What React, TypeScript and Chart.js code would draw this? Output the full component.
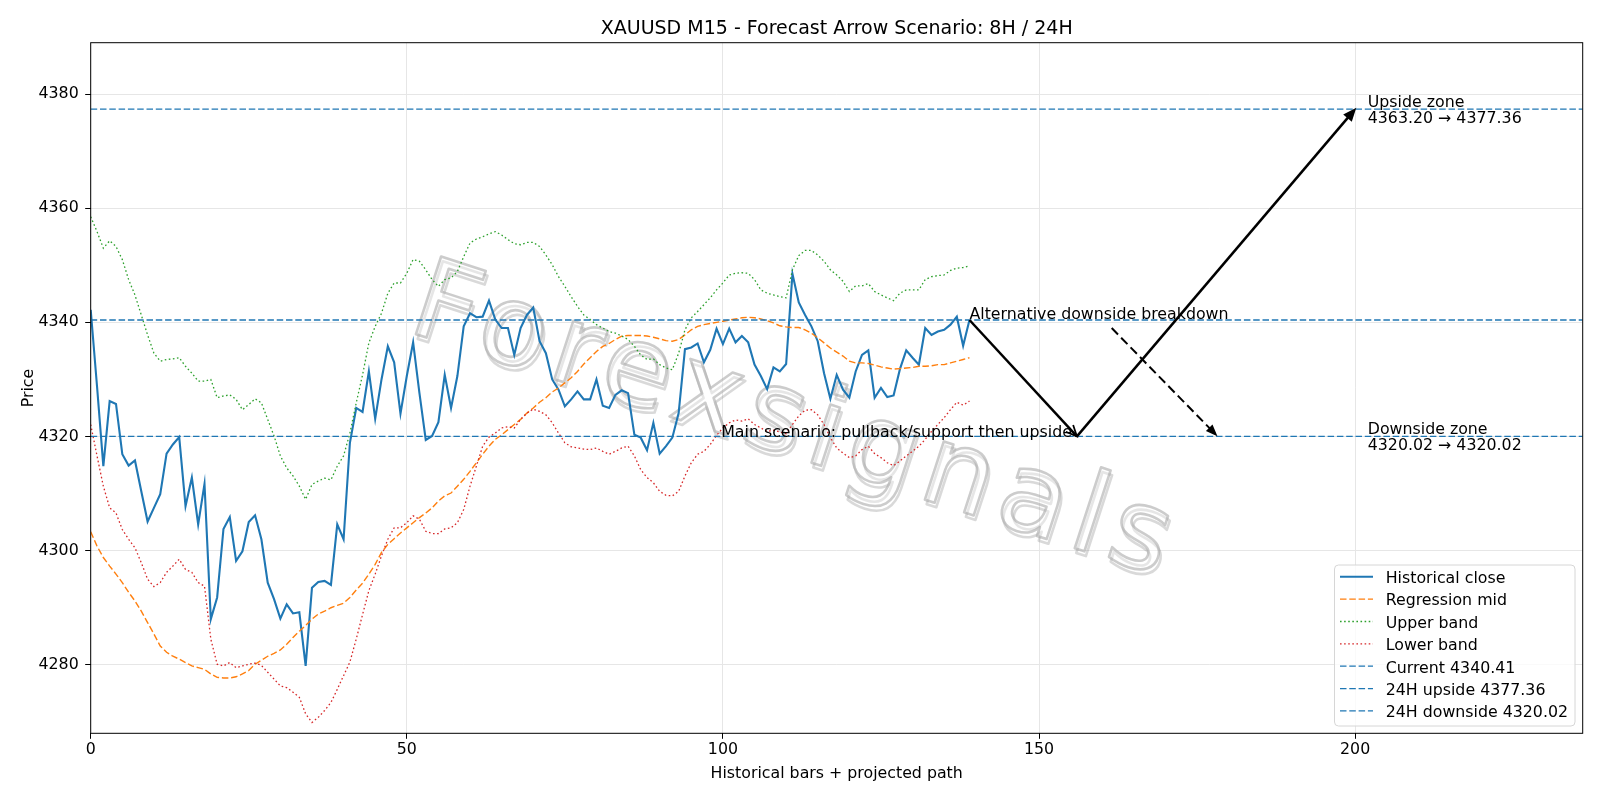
import { useEffect, useRef } from "react";
import { Chart, registerables } from "chart.js";

Chart.register(...registerables);

// ---------------- data ----------------
const historicalClose = [
  4342.2, 4328.8, 4314.8, 4326.2, 4325.7, 4316.9, 4314.9, 4315.8, 4310.4, 4305.1,
  4307.5, 4309.9, 4317.0, 4318.6, 4319.9, 4307.8, 4312.8, 4304.6, 4311.7, 4288.0,
  4291.8, 4303.8, 4305.9, 4298.2, 4299.9, 4305.0, 4306.2, 4302.0, 4294.4, 4291.5,
  4288.1, 4290.6, 4289.0, 4289.2, 4279.8, 4293.5, 4294.5, 4294.7, 4294.0, 4304.6,
  4302.0, 4318.9, 4325.0, 4324.3, 4331.4, 4323.1, 4330.0, 4335.8, 4333.0, 4324.0,
  4330.6, 4336.5, 4327.6, 4319.4, 4320.1, 4322.5, 4330.8, 4325.0, 4330.6, 4339.3,
  4341.6, 4340.9, 4341.0, 4343.8, 4340.5, 4339.0, 4339.0, 4334.3, 4339.0, 4341.3,
  4342.6, 4336.7, 4334.6, 4330.0, 4328.2, 4325.3, 4326.5, 4327.9, 4326.5, 4326.5,
  4330.0, 4325.4, 4325.0, 4327.3, 4328.1, 4327.6, 4320.3, 4319.8, 4317.6, 4322.4,
  4317.0, 4318.3, 4319.8, 4324.1, 4335.3, 4335.6, 4336.3, 4333.0, 4335.2, 4338.9,
  4336.2, 4338.9, 4336.5, 4337.6, 4336.5, 4332.6, 4330.6, 4328.3, 4332.1, 4331.4,
  4332.7, 4348.5, 4343.5, 4341.3, 4339.3, 4336.7, 4331.1, 4326.6, 4330.8, 4328.2,
  4326.8, 4331.4, 4334.3, 4335.1, 4326.8, 4328.5, 4326.9, 4327.2, 4331.8, 4335.1,
  4333.8, 4332.6, 4339.0, 4337.8, 4338.4, 4338.7, 4339.6, 4341.0, 4335.9, 4340.41,
];

const regressionMid = [
  4303.3, 4300.8, 4298.8, 4297.3, 4295.9, 4294.4, 4292.7, 4291.2, 4289.4, 4287.4,
  4285.4, 4283.3, 4282.2, 4281.5, 4281.0, 4280.4, 4279.8, 4279.5, 4279.2, 4278.4,
  4277.8, 4277.7, 4277.7, 4277.9, 4278.4, 4279.0, 4280.1, 4280.8, 4281.5, 4282.0,
  4282.6, 4283.6, 4284.8, 4285.9, 4286.9, 4288.0, 4288.9, 4289.4, 4290.0, 4290.4,
  4290.8, 4291.8, 4293.1, 4294.3, 4295.9, 4297.6, 4299.7, 4301.1, 4302.1, 4303.1,
  4304.0, 4304.9, 4305.8, 4306.6, 4307.5, 4308.7, 4309.6, 4310.1, 4311.3, 4312.5,
  4313.9, 4315.4, 4316.9, 4318.3, 4319.5, 4320.3, 4321.2, 4322.1, 4323.0, 4324.1,
  4325.0, 4326.0, 4326.8, 4327.8, 4328.5, 4329.4, 4330.3, 4331.4, 4332.7, 4333.8,
  4334.9, 4335.8, 4336.3, 4337.0, 4337.6, 4337.7, 4337.7, 4337.7, 4337.6, 4337.4,
  4337.1, 4336.8, 4336.7, 4337.0, 4337.8, 4338.7, 4339.3, 4339.6, 4339.8, 4340.0,
  4340.2, 4340.4, 4340.6, 4340.8, 4340.9, 4340.8, 4340.6, 4340.3, 4339.9, 4339.4,
  4339.2, 4339.1, 4339.1, 4338.7, 4338.1, 4337.3, 4336.4, 4335.5, 4334.8, 4334.1,
  4333.2, 4332.9, 4332.9, 4332.8, 4332.5, 4332.2, 4332.0, 4331.8, 4331.9, 4332.0,
  4332.1, 4332.3, 4332.3, 4332.4, 4332.6, 4332.6, 4332.9, 4333.2, 4333.5, 4333.8,
];

const upperBand = [
  4358.5, 4355.9, 4353.0, 4354.3, 4353.3, 4351.0, 4347.5, 4344.8, 4341.3, 4337.8,
  4334.6, 4333.2, 4333.5, 4333.6, 4333.8, 4332.3, 4331.1, 4329.7, 4329.7, 4330.0,
  4326.8, 4327.1, 4327.3, 4326.5, 4324.7, 4325.6, 4326.6, 4325.9, 4323.0, 4320.1,
  4316.6, 4314.5, 4313.1, 4311.3, 4309.0, 4311.6, 4312.2, 4312.7, 4312.4, 4314.8,
  4316.6, 4320.6, 4325.9, 4330.8, 4336.4, 4339.3, 4341.6, 4345.1, 4346.9, 4346.9,
  4348.6, 4351.0, 4350.7, 4349.2, 4347.5, 4346.3, 4347.5, 4347.8, 4348.9, 4351.5,
  4353.9, 4354.6, 4355.0, 4355.5, 4355.9, 4355.3, 4354.5, 4353.8, 4353.6, 4354.0,
  4354.0, 4353.3, 4351.8, 4350.1, 4348.0, 4346.3, 4344.5, 4342.8, 4341.3, 4340.5,
  4339.6, 4339.0, 4338.4, 4338.1, 4337.6, 4337.0, 4335.8, 4334.3, 4333.5, 4333.6,
  4332.6, 4332.0, 4331.7, 4334.6, 4338.7, 4340.8, 4341.9, 4343.1, 4344.3, 4345.7,
  4346.9, 4348.3, 4348.6, 4348.7, 4348.6, 4347.5, 4345.7, 4345.1, 4344.8, 4344.5,
  4344.3, 4349.2, 4351.7, 4352.6, 4352.6, 4351.8, 4350.7, 4349.2, 4348.3, 4347.2,
  4345.4, 4346.4, 4346.4, 4346.8, 4345.4, 4344.8, 4344.3, 4343.8, 4345.1, 4345.7,
  4345.7, 4345.7, 4347.5, 4348.0, 4348.2, 4348.3, 4349.1, 4349.5, 4349.6, 4349.9,
];

const lowerBand = [
  4322.1, 4316.6, 4311.3, 4307.5, 4306.6, 4303.7, 4302.0, 4300.5, 4297.9, 4295.0,
  4293.7, 4294.4, 4296.2, 4297.3, 4298.5, 4296.7, 4296.2, 4294.4, 4293.8, 4284.5,
  4280.1, 4279.8, 4280.4, 4279.5, 4279.8, 4280.1, 4280.3, 4279.9, 4278.7, 4277.5,
  4276.3, 4276.0, 4275.2, 4274.3, 4271.4, 4269.9, 4270.8, 4272.0, 4273.4, 4275.7,
  4278.1, 4280.5, 4284.5, 4288.8, 4293.0, 4295.9, 4299.1, 4302.0, 4304.0, 4304.0,
  4304.9, 4306.1, 4305.5, 4303.4, 4303.0, 4303.0, 4303.8, 4304.0, 4304.9, 4307.2,
  4311.3, 4314.8, 4318.3, 4319.9, 4320.6, 4321.5, 4321.7, 4321.5, 4323.0, 4324.1,
  4324.8, 4324.4, 4323.8, 4322.4, 4320.6, 4318.9, 4318.2, 4318.0, 4317.8, 4317.7,
  4318.0, 4317.4, 4316.9, 4317.4, 4318.0, 4318.3, 4316.6, 4314.2, 4312.8, 4311.9,
  4310.4, 4309.7, 4309.6, 4310.4, 4313.1, 4315.4, 4316.9, 4317.4, 4318.6, 4320.2,
  4321.5, 4322.4, 4322.9, 4322.7, 4323.1, 4322.1, 4321.5, 4320.9, 4321.1, 4320.8,
  4320.5, 4322.1, 4323.6, 4324.6, 4324.7, 4323.8, 4322.1, 4319.8, 4318.0, 4317.1,
  4316.3, 4316.6, 4317.7, 4318.3, 4317.0, 4316.3, 4315.4, 4314.9, 4315.7, 4316.6,
  4317.4, 4318.3, 4319.5, 4320.9, 4322.1, 4323.3, 4324.7, 4326.0, 4325.5, 4326.2,
];

const xTicks = [0, 50, 100, 150, 200];
const yTicks = [4280, 4300, 4320, 4340, 4360, 4380];
const xLimits = [0, 236];
const yLimits = [4268, 4389];

const currentPrice = 4340.41;
const upside24H = 4377.36;
const downside24H = 4320.02;
const upsideZoneStart = 4363.2;
const downsideZoneStart = 4320.02;

// projected scenario path: current -> support -> upside target
const mainPathX = [139, 156, 200];
const mainPathY = [4340.41, 4320.02, 4377.36];
// alternative downside breakdown
const altPathX = [161.5, 178];
const altPathY = [4339.0, 4320.3];

const TITLE = "XAUUSD M15 - Forecast Arrow Scenario: 8H / 24H";
const X_TITLE = "Historical bars + projected path";
const Y_TITLE = "Price";
const WATERMARK = "Forexsignals";

// ---------------- styles ----------------
const FONT = '"DejaVu Sans", "Liberation Sans", sans-serif';
const FS = 15.8;
const TITLE_FS = 19;
const BLUE = "#1f77b4";
const ORANGE = "#ff7f0e";
const GREEN = "#2ca02c";
const RED = "#d62728";

const toXY = (arr: number[]) => arr.map((y, i) => ({ x: i, y }));
const hline = (level: number) => xLimits.map((x) => ({ x, y: level }));

function drawArrow(
  ctx: CanvasRenderingContext2D,
  x1: number,
  y1: number,
  x2: number,
  y2: number,
  o: { width: number; dash?: number[]; head: "filled" | "open"; len: number; half: number }
) {
  const ang = Math.atan2(y2 - y1, x2 - x1);
  const ux = Math.cos(ang);
  const uy = Math.sin(ang);
  ctx.save();
  ctx.strokeStyle = "#000";
  ctx.fillStyle = "#000";
  ctx.lineWidth = o.width;
  ctx.lineCap = "butt";
  ctx.setLineDash(o.dash || []);
  const endX = o.head === "filled" ? x2 - ux * o.len * 0.8 : x2;
  const endY = o.head === "filled" ? y2 - uy * o.len * 0.8 : y2;
  ctx.beginPath();
  ctx.moveTo(x1, y1);
  ctx.lineTo(endX, endY);
  ctx.stroke();
  ctx.setLineDash([]);
  const bx = x2 - ux * o.len;
  const by = y2 - uy * o.len;
  const px = -uy;
  const py = ux;
  if (o.head === "filled") {
    ctx.beginPath();
    ctx.moveTo(x2, y2);
    ctx.lineTo(bx + px * o.half, by + py * o.half);
    ctx.lineTo(bx - px * o.half, by - py * o.half);
    ctx.closePath();
    ctx.fill();
    ctx.lineWidth = 1.5;
    ctx.stroke();
  } else {
    ctx.lineWidth = o.width * 0.7;
    ctx.beginPath();
    ctx.moveTo(bx + px * o.half, by + py * o.half);
    ctx.lineTo(x2, y2);
    ctx.lineTo(bx - px * o.half, by - py * o.half);
    ctx.stroke();
  }
  ctx.restore();
}

const overlayPlugin = {
  id: "overlay",
  beforeDatasetsDraw(chart: any) {
    const { ctx, chartArea: a } = chart;
    ctx.save();
    ctx.beginPath();
    ctx.rect(a.left, a.top, a.right - a.left, a.bottom - a.top);
    ctx.clip();
    const cx = a.left + 0.472 * (a.right - a.left);
    const cy = a.top + 0.556 * (a.bottom - a.top);
    ctx.translate(cx, cy);
    ctx.rotate((18 * Math.PI) / 180);
    ctx.font = `112px ${FONT}`;
    (ctx as any).letterSpacing = "0px";
    const w0 = ctx.measureText(WATERMARK).width;
    const spacing = Math.max(0, (800 - w0) / WATERMARK.length);
    (ctx as any).letterSpacing = `${spacing}px`;
    ctx.textAlign = "center";
    ctx.textBaseline = "middle";
    ctx.lineJoin = "round";
    ctx.fillStyle = "rgba(255,255,255,0.35)";
    ctx.lineWidth = 2.6;
    ctx.strokeStyle = "rgba(120,120,120,0.28)";
    ctx.strokeText(WATERMARK, 3, 4);
    ctx.fillText(WATERMARK, 0, 0);
    ctx.strokeStyle = "rgba(170,170,170,0.6)";
    ctx.strokeText(WATERMARK, 0, 0);
    ctx.restore();
  },
  afterDatasetsDraw(chart: any) {
    const { ctx } = chart;
    const xs = chart.scales.x;
    const ys = chart.scales.y;
    const X = (v: number) => xs.getPixelForValue(v);
    const Y = (v: number) => ys.getPixelForValue(v);

    // main scenario arrows
    drawArrow(ctx, X(mainPathX[0]), Y(mainPathY[0]), X(mainPathX[1]), Y(mainPathY[1]), {
      width: 2.5,
      head: "open",
      len: 11,
      half: 5,
    });
    drawArrow(ctx, X(mainPathX[1]), Y(mainPathY[1]), X(mainPathX[2]), Y(mainPathY[2]), {
      width: 2.5,
      head: "filled",
      len: 11,
      half: 4.5,
    });
    // alternative arrow
    drawArrow(ctx, X(altPathX[0]), Y(altPathY[0]), X(altPathX[1]), Y(altPathY[1]), {
      width: 2,
      dash: [9, 4.5],
      head: "filled",
      len: 9,
      half: 3.5,
    });

    // annotation texts
    ctx.save();
    ctx.fillStyle = "#000";
    ctx.font = `${FS}px ${FONT}`;
    ctx.textBaseline = "alphabetic";
    ctx.textAlign = "left";
    ctx.fillText("Alternative downside breakdown", X(mainPathX[0]), Y(currentPrice) - 1);
    ctx.textAlign = "right";
    ctx.fillText("Main scenario: pullback/support then upside", X(155.2), Y(downside24H) + 1);
    ctx.textAlign = "left";
    ctx.textBaseline = "alphabetic";
    const zx = X(202);
    ctx.fillText("Upside zone", zx, Y(upside24H) - 2.5);
    ctx.fillText(
      `${upsideZoneStart.toFixed(2)} \u2192 ${upside24H.toFixed(2)}`,
      zx,
      Y(upside24H) + 13.5
    );
    ctx.fillText("Downside zone", zx, Y(downside24H) - 2.5);
    ctx.fillText(
      `${downsideZoneStart.toFixed(2)} \u2192 ${downside24H.toFixed(2)}`,
      zx,
      Y(downside24H) + 13.5
    );
    ctx.restore();
  },
  afterDraw(chart: any) {
    const { ctx, chartArea: a } = chart;
    ctx.save();
    // frame
    ctx.strokeStyle = "#000";
    ctx.lineWidth = 1;
    ctx.setLineDash([]);
    ctx.strokeRect(a.left, a.top, a.right - a.left, a.bottom - a.top);

    // title
    const cx = (a.left + a.right) / 2;
    ctx.fillStyle = "#000";
    ctx.textAlign = "center";
    ctx.textBaseline = "alphabetic";
    ctx.font = `${TITLE_FS}px ${FONT}`;
    ctx.fillText(TITLE, cx, 33.5);
    // x title
    ctx.font = `${FS}px ${FONT}`;
    ctx.fillText(X_TITLE, cx, 777.5);
    // y title
    ctx.save();
    ctx.translate(32.5, (a.top + a.bottom) / 2);
    ctx.rotate(-Math.PI / 2);
    ctx.fillText(Y_TITLE, 0, 0);
    ctx.restore();

    // legend
    const lx = 1334.5;
    const ly = 565;
    const lw = 1575 - lx;
    const lh = 726 - ly;
    const r = 4;
    ctx.beginPath();
    ctx.moveTo(lx + r, ly);
    ctx.lineTo(lx + lw - r, ly);
    ctx.arcTo(lx + lw, ly, lx + lw, ly + r, r);
    ctx.lineTo(lx + lw, ly + lh - r);
    ctx.arcTo(lx + lw, ly + lh, lx + lw - r, ly + lh, r);
    ctx.lineTo(lx + r, ly + lh);
    ctx.arcTo(lx, ly + lh, lx, ly + lh - r, r);
    ctx.lineTo(lx, ly + r);
    ctx.arcTo(lx, ly, lx + r, ly, r);
    ctx.closePath();
    ctx.fillStyle = "rgba(255,255,255,0.8)";
    ctx.fill();
    ctx.strokeStyle = "#d6d6d6";
    ctx.lineWidth = 1;
    ctx.stroke();

    const ds = chart.data.datasets;
    ds.forEach((d: any, i: number) => {
      const yc = 576.8 + i * 22.35;
      ctx.save();
      ctx.strokeStyle = d.borderColor;
      ctx.lineWidth = d.borderWidth;
      ctx.setLineDash(d.borderDash || []);
      ctx.beginPath();
      ctx.moveTo(1340, yc);
      ctx.lineTo(1373, yc);
      ctx.stroke();
      ctx.restore();
      ctx.fillStyle = "#000";
      ctx.textAlign = "left";
      ctx.textBaseline = "alphabetic";
      ctx.font = `${FS}px ${FONT}`;
      ctx.fillText(d.label, 1385.7, yc + 6.3);
    });
    ctx.restore();
  },
};

export default function App() {
  const ref = useRef<HTMLCanvasElement | null>(null);

  useEffect(() => {
    document.body.style.margin = "0";
    const canvas = ref.current;
    if (!canvas) return;

    const line = (
      label: string,
      data: { x: number; y: number }[],
      color: string,
      width: number,
      dash: number[],
      order: number
    ) => ({
      label,
      data,
      borderColor: color,
      backgroundColor: color,
      borderWidth: width,
      borderDash: dash,
      pointRadius: 0,
      tension: 0,
      fill: false,
      order,
    });

    const chart = new Chart(canvas, {
      type: "line",
      data: {
        datasets: [
          line("Historical close", toXY(historicalClose), BLUE, 2.1, [], 7),
          line("Regression mid", toXY(regressionMid), ORANGE, 1.4, [6.5, 2.8], 6),
          line("Upper band", toXY(upperBand), GREEN, 1.3, [1.6, 2.5], 5),
          line("Lower band", toXY(lowerBand), RED, 1.3, [1.6, 2.5], 4),
          line(`Current ${currentPrice.toFixed(2)}`, hline(currentPrice), BLUE, 1.3, [6.5, 2.8], 3),
          line(`24H upside ${upside24H.toFixed(2)}`, hline(upside24H), BLUE, 1.3, [6.5, 2.8], 2),
          line(`24H downside ${downside24H.toFixed(2)}`, hline(downside24H), BLUE, 1.3, [6.5, 2.8], 1),
        ],
      },
      options: {
        animation: false,
        responsive: false,
        devicePixelRatio: 1,
        parsing: false as any,
        normalized: true,
        layout: { padding: { left: 0, right: 1600 - 1582.7, top: 42.7, bottom: 0 } },
        plugins: {
          legend: { display: false },
          title: { display: false },
          tooltip: { enabled: false },
        },
        scales: {
          x: {
            type: "linear",
            min: xLimits[0],
            max: xLimits[1],
            afterBuildTicks: (s: any) => {
              s.ticks = xTicks.map((v) => ({ value: v }));
            },
            afterFit: (s: any) => {
              s.height = 800 - 733.3;
            },
            grid: {
              color: "#e6e6e6",
              lineWidth: 1,
              tickColor: "#000",
              tickLength: 5.5,
              tickWidth: 1,
            },
            border: { display: false },
            ticks: {
              color: "#000",
              font: { family: FONT, size: FS },
              padding: 2,
              maxRotation: 0,
              autoSkip: false,
              callback: (v: any) => String(v),
            },
          },
          y: {
            type: "linear",
            min: yLimits[0],
            max: yLimits[1],
            afterBuildTicks: (s: any) => {
              s.ticks = yTicks.map((v) => ({ value: v }));
            },
            afterFit: (s: any) => {
              s.width = 90.7;
            },
            grid: {
              color: "#e6e6e6",
              lineWidth: 1,
              tickColor: "#000",
              tickLength: 5.5,
              tickWidth: 1,
            },
            border: { display: false },
            ticks: {
              color: "#000",
              font: { family: FONT, size: FS },
              padding: 6.5,
              autoSkip: false,
              callback: (v: any) => String(v),
            },
          },
        },
      },
      plugins: [overlayPlugin],
    } as any);

    return () => chart.destroy();
  }, []);

  return (
    <div style={{ position: "absolute", left: 0, top: 0, width: 1600, height: 800, background: "#fff" }}>
      <canvas ref={ref} width={1600} height={800} style={{ display: "block" }} />
    </div>
  );
}
